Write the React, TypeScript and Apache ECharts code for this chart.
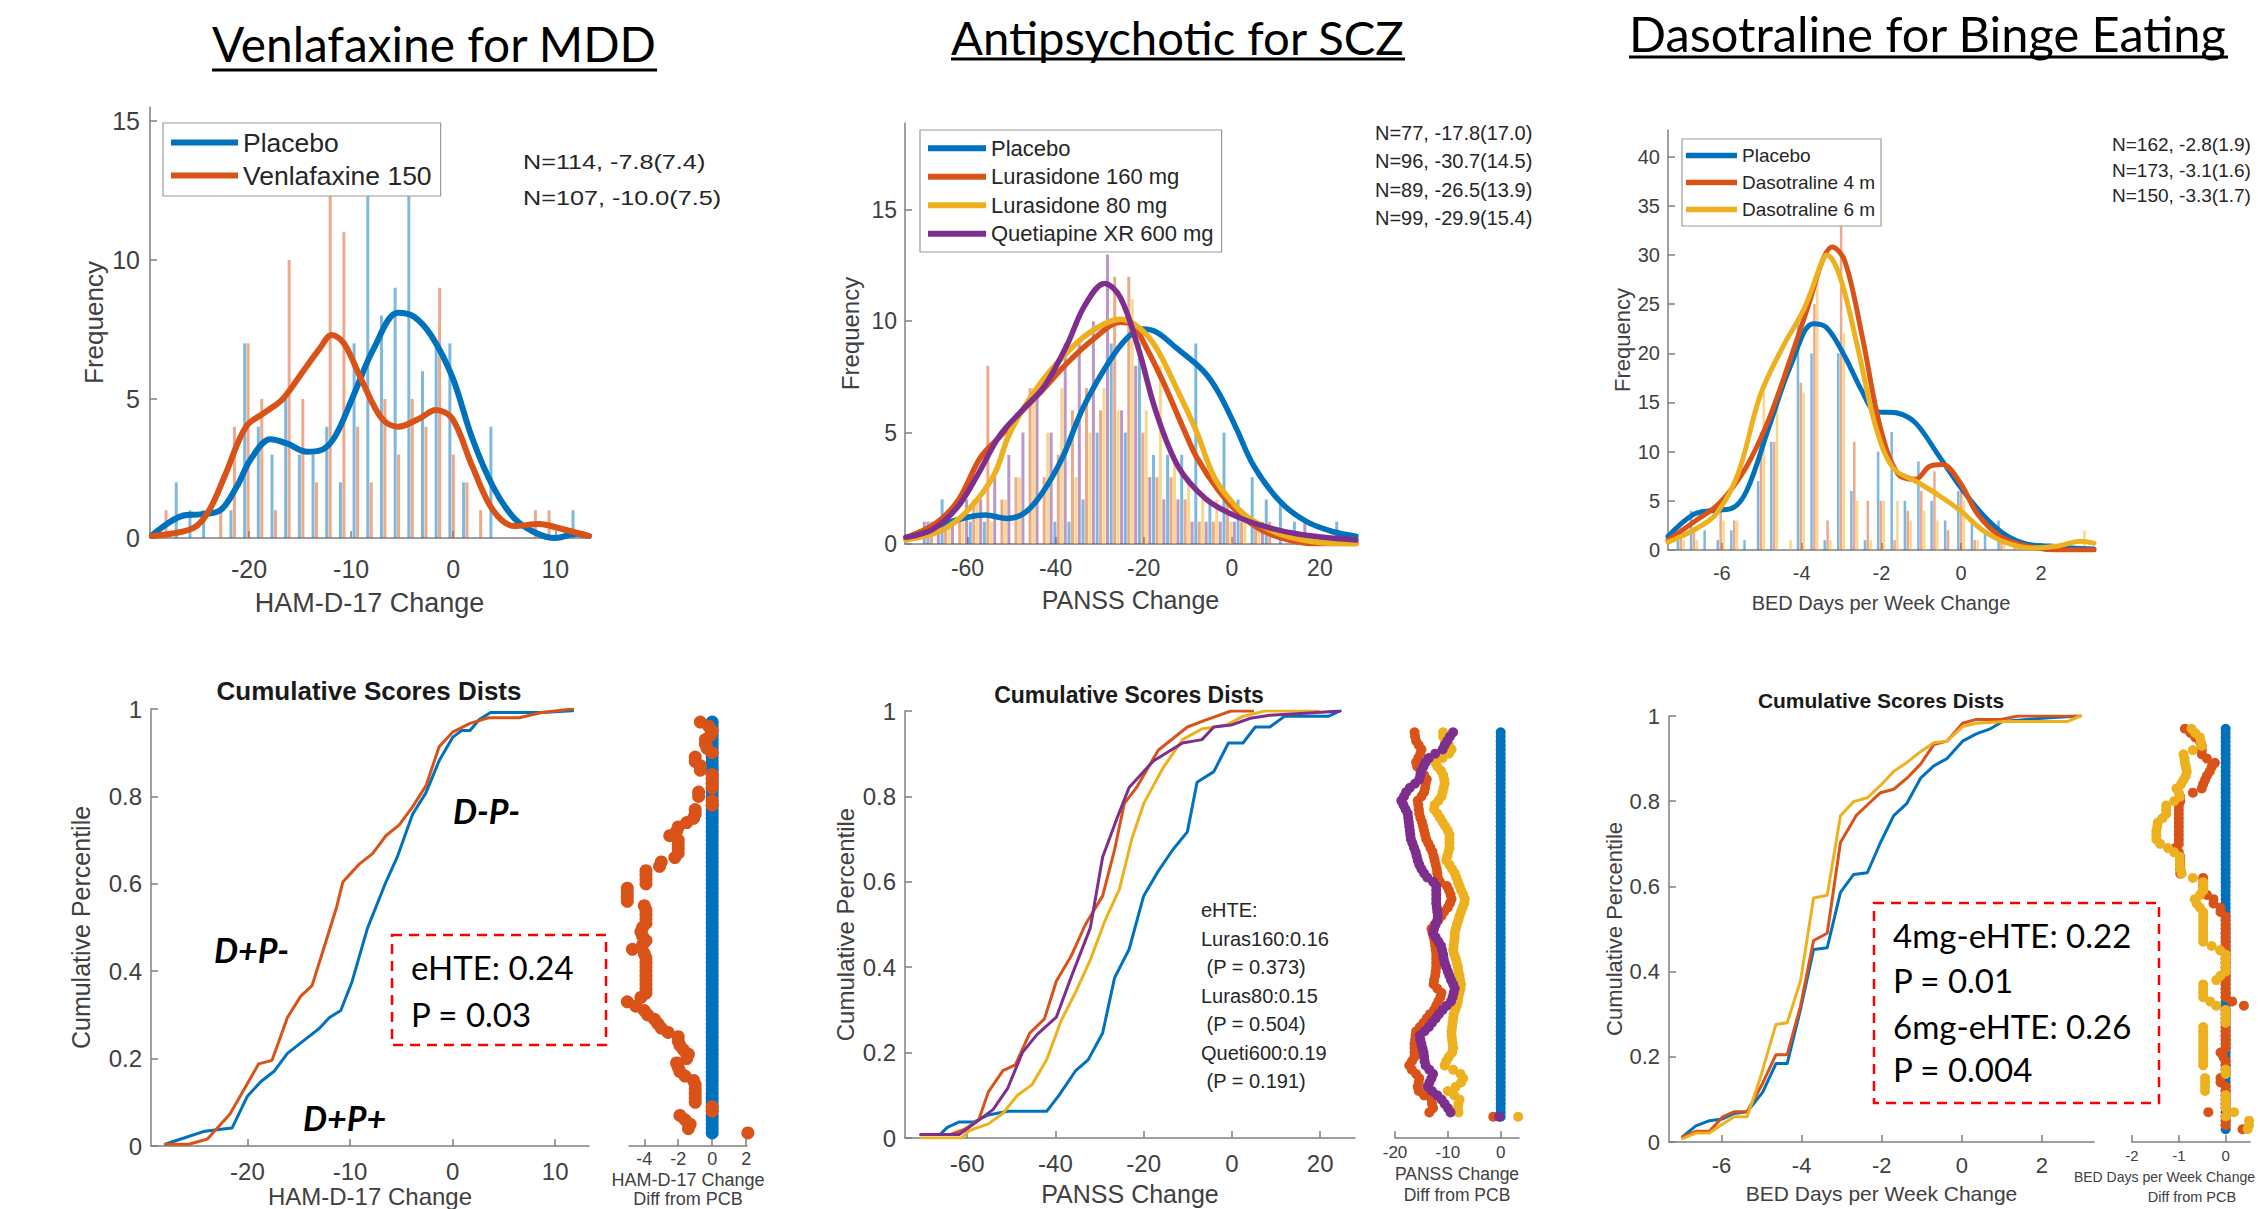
import React, { useEffect, useRef } from "react";
import * as echarts from "echarts";

const BLUE = "#0072BD";
const ORANGE = "#D95319";
const YELLOW = "#EDB120";
const PURPLE = "#7E2F8E";
const AXC = "#7f7f7f";
const LBL = "#404040";
const SANS = "Liberation Sans, Arial, Helvetica, sans-serif";
const CAL = "Lato";

// ---------------- Column 1 : Venlafaxine for MDD ----------------
const mddBins = [-28.3, -26.96, -25.62, -24.28, -22.94, -21.6, -20.26, -18.92, -17.58, -16.24, -14.9, -13.56, -12.22, -10.88, -9.54, -8.2, -6.86, -5.52, -4.18, -2.84, -1.5, -0.16, 1.18, 2.52, 3.86, 5.2, 6.54, 7.88, 9.22, 10.56, 11.9];
const mddPlaceboHist = [0, 2, 1, 1, 0, 1, 7, 4, 3, 5, 3, 3, 4, 2, 7, 13, 8, 9, 13, 6, 7, 7, 2, 0, 4, 0, 0, 0, 0, 0, 1];
const mddVenlaHist = [1, 0, 0, 0, 1, 4, 7, 5, 1, 10, 5, 2, 13, 11, 4, 2, 5, 3, 5, 4, 9, 3, 2, 1, 0, 0, 0, 1, 1, 0, 0];
const mddPlaceboDensity = [[-29.5, 0.1], [-26.5, 0.8], [-24.8, 0.85], [-22.8, 1.0], [-21.2, 1.85], [-19.8, 2.85], [-17.9, 3.55], [-16.3, 3.4], [-14.3, 3.1], [-12.7, 3.2], [-11.5, 3.7], [-9.8, 5.1], [-7.8, 6.8], [-5.4, 8.1], [-3.8, 7.95], [-2.1, 7.25], [-0.1, 5.8], [1.9, 3.55], [3.9, 1.85], [6.0, 0.7], [8.0, 0.2], [10.0, 0.0], [12.1, 0.15], [13.3, 0.07]];
const mddVenlaDensity = [[-29.5, 0.07], [-25.5, 0.35], [-23.9, 1.0], [-22.3, 2.3], [-20.3, 4.0], [-18.3, 4.55], [-16.7, 5.0], [-14.7, 6.0], [-13.1, 6.8], [-11.9, 7.3], [-10.7, 7.0], [-9.0, 5.7], [-7.0, 4.3], [-5.4, 4.0], [-3.3, 4.3], [-1.7, 4.6], [-0.1, 4.3], [1.9, 2.55], [3.9, 1.0], [6.0, 0.43], [8.4, 0.5], [10.4, 0.35], [13.3, 0.07]];
const mddPlaceboCdf = [[-28.0, 0.004], [-27.0, 0.012], [-24.3, 0.033], [-23.0, 0.037], [-21.5, 0.041], [-20.0, 0.114], [-18.7, 0.147], [-17.4, 0.171], [-16.1, 0.212], [-14.3, 0.245], [-13.0, 0.269], [-12.0, 0.294], [-10.9, 0.31], [-9.8, 0.376], [-8.3, 0.498], [-6.5, 0.604], [-5.4, 0.661], [-3.9, 0.759], [-2.6, 0.808], [-1.3, 0.882], [0.0, 0.935], [0.9, 0.951], [1.7, 0.951], [2.6, 0.976], [3.7, 0.992], [6.1, 0.992], [8.7, 0.992], [11.7, 0.996]];
const mddVenlaCdf = [[-28.0, 0.004], [-25.7, 0.004], [-23.9, 0.016], [-21.7, 0.073], [-20.0, 0.143], [-18.9, 0.188], [-17.6, 0.196], [-16.1, 0.294], [-14.8, 0.343], [-13.7, 0.367], [-12.6, 0.449], [-11.3, 0.547], [-10.7, 0.604], [-9.1, 0.645], [-7.8, 0.669], [-6.5, 0.71], [-5.2, 0.735], [-3.9, 0.776], [-2.6, 0.824], [-1.3, 0.914], [0.0, 0.947], [1.7, 0.967], [3.5, 0.98], [6.5, 0.98], [8.7, 0.992], [11.7, 1.0]];
const mddStats = ["N=114, -7.8(7.4)", "N=107, -10.0(7.5)"];
const pctLevels = [0.03, 0.04, 0.05, 0.06, 0.07, 0.08, 0.09, 0.10, 0.11, 0.12, 0.13, 0.14, 0.15, 0.16, 0.17, 0.18, 0.19, 0.20, 0.21, 0.22, 0.23, 0.24, 0.25, 0.26, 0.27, 0.28, 0.29, 0.30, 0.31, 0.32, 0.33, 0.34, 0.35, 0.36, 0.37, 0.38, 0.39, 0.40, 0.41, 0.42, 0.43, 0.44, 0.45, 0.46, 0.47, 0.48, 0.49, 0.50, 0.51, 0.52, 0.53, 0.54, 0.55, 0.56, 0.57, 0.58, 0.59, 0.60, 0.61, 0.62, 0.63, 0.64, 0.65, 0.66, 0.67, 0.68, 0.69, 0.70, 0.71, 0.72, 0.73, 0.74, 0.75, 0.76, 0.77, 0.78, 0.79, 0.80, 0.81, 0.82, 0.83, 0.84, 0.85, 0.86, 0.87, 0.88, 0.89, 0.90, 0.91, 0.92, 0.93, 0.94, 0.95, 0.96, 0.97];
const mddVenlaDiff = [2.1, -1.4, -1.3, -1.6, -1.9, 0, 0, -1, -1, -1, -1, -1, -1.1, -1.6, -1.9, -2, -2.1, -1.5, -1.4, -1.7, -1.9, -2, -2, -2.6, -3, -3.2, -3.4, -3.8, -4, -4.5, -5, -4.2, -3.9, -3.9, -3.9, -3.9, -3.9, -3.9, -3.9, -3.9, -3.9, -4, -4.7, -4.1, -3.9, -4.1, -4.2, -4.1, -3.9, -3.9, -3.9, -3.9, -4, -5, -5, -5, -5, -3.9, -3.9, -3.9, -3.9, -3.1, -3, -2.2, -2, -2, -2, -2, -2.5, -2.1, -2, -1.5, -1.1, -1, -1, 0, 0, -0.8, -0.8, 0, 0, 0, 0, -0.7, -0.7, -1, -1, 0, -0.3, -0.4, -0.4, -0.1, 0, -0.2, -0.7];

// ---------------- Column 2 : Antipsychotic for SCZ ----------------
const sczBins = [-71, -67.8, -64.6, -61.4, -58.2, -55, -51.8, -48.6, -45.4, -42.2, -39, -35.8, -32.6, -29.4, -26.2, -23, -19.8, -16.6, -13.4, -10.2, -7, -3.8, -0.6, 2.6, 5.8, 9, 12.2, 15.4, 18.6, 21.8, 25];
const sczPlaceboHist = [0, 1, 2, 0, 1, 1, 0, 0, 0, 0, 1, 1, 2, 5, 9, 5, 9, 4, 4, 4, 9, 2, 5, 2, 3, 2, 2, 1, 0, 0, 1];
const sczL160Hist = [0, 1, 1, 1, 2, 8, 2, 3, 7, 3, 4, 6, 7, 6, 12, 12, 5, 3, 3, 2, 1, 1, 2, 1, 1, 1, 0, 0, 0, 0, 0];
const sczL80Hist = [0, 0, 1, 1, 2, 1, 2, 3, 7, 5, 7, 3, 5, 7, 6, 11, 6, 8, 4, 3, 2, 2, 1, 1, 1, 0, 0, 0, 0, 0, 0];
const sczQuetiHist = [1, 1, 1, 2, 2, 3, 4, 5, 7, 5, 9, 9, 10, 13, 6, 8, 3, 2, 2, 1, 1, 1, 1, 0, 1, 0, 0, 1, 0, 0, 0];
const sczPlaceboDensity = [[-74, 0.27], [-67, 0.8], [-60, 1.2], [-56, 1.3], [-51, 1.15], [-47, 1.4], [-43, 2.3], [-38.4, 3.9], [-33.8, 6.1], [-27.8, 8.2], [-23.5, 9.3], [-20.2, 9.65], [-17, 9.5], [-12.6, 8.8], [-6.6, 7.8], [-3, 6.8], [1, 5.2], [5, 3.5], [11, 1.9], [17, 1.0], [23, 0.55], [28.2, 0.35]];
const sczL160Density = [[-74, 0.27], [-67, 0.95], [-62, 2.0], [-57, 3.9], [-52, 4.95], [-48.2, 5.84], [-43, 6.9], [-37.5, 8.1], [-31.4, 9.2], [-25.3, 9.95], [-22.5, 9.85], [-20.2, 9.12], [-15.7, 7.33], [-11.1, 5.24], [-8, 3.9], [-3, 2.4], [2, 1.3], [7, 0.6], [13, 0.18], [19, 0.02], [28.2, 0.05]];
const sczL80Density = [[-74, 0.18], [-66, 0.6], [-60, 1.5], [-54, 3.1], [-50.5, 4.94], [-45.2, 6.73], [-39.2, 8.23], [-32.3, 9.49], [-25.1, 10.09], [-21, 9.7], [-17.2, 8.82], [-12.65, 7.03], [-8.1, 5.09], [-4, 3.0], [0, 1.9], [4, 1.15], [11, 0.44], [19, 0.09], [28.2, 0.0]];
const sczQuetiDensity = [[-74, 0.3], [-68, 0.65], [-62.5, 1.6], [-57.7, 3.1], [-52.7, 4.87], [-47.6, 6.0], [-42.5, 7.1], [-37.5, 8.9], [-33.4, 10.7], [-28.9, 11.7], [-25.3, 11.07], [-21.2, 8.77], [-17.2, 5.93], [-12.1, 3.45], [-6, 2.04], [0, 1.33], [7.2, 0.8], [15.3, 0.44], [28.2, 0.18]];
const sczPlaceboCdf = [[-70.5, 0.008], [-66.2, 0.008], [-64.5, 0.025], [-61.8, 0.0375], [-58.5, 0.0375], [-55.2, 0.054], [-50.8, 0.0625], [-42.0, 0.0625], [-39.2, 0.1], [-35.4, 0.158], [-32.6, 0.183], [-29.3, 0.246], [-26.6, 0.375], [-23.3, 0.442], [-20.0, 0.567], [-16.7, 0.625], [-13.4, 0.675], [-10.1, 0.717], [-7.9, 0.833], [-4.1, 0.858], [-0.8, 0.925], [2.5, 0.925], [5.3, 0.9625], [8.6, 0.9625], [11.9, 0.9875], [21.8, 0.9875], [24.5, 1.0]];
const sczL160Cdf = [[-70.5, 0.008], [-63.9, 0.008], [-60.7, 0.02], [-57.4, 0.042], [-55.2, 0.108], [-51.9, 0.158], [-49.1, 0.171], [-45.8, 0.246], [-42.5, 0.279], [-39.8, 0.367], [-36.5, 0.425], [-33.2, 0.5], [-29.3, 0.567], [-26.6, 0.675], [-24.4, 0.783], [-21.6, 0.821], [-16.7, 0.908], [-10.1, 0.9625], [-5.7, 0.98], [-0.2, 1.0], [4.7, 1.0]];
const sczL80Cdf = [[-70.5, 0], [-61.2, 0], [-59.6, 0.017], [-55.2, 0.033], [-51.9, 0.058], [-48.6, 0.1], [-45.3, 0.125], [-42.0, 0.183], [-38.7, 0.275], [-35.4, 0.342], [-32.1, 0.417], [-28.8, 0.508], [-25.5, 0.583], [-22.7, 0.7], [-20.0, 0.783], [-15.6, 0.867], [-11.2, 0.933], [-6.8, 0.958], [-1.3, 0.967], [2.5, 0.9875], [7.5, 1.0], [19.6, 1.0]];
const sczQuetiCdf = [[-70.5, 0.008], [-61.8, 0.008], [-58.5, 0.033], [-54.1, 0.067], [-50.8, 0.117], [-47.5, 0.2], [-44.2, 0.242], [-39.8, 0.283], [-36.5, 0.375], [-32.1, 0.492], [-29.3, 0.658], [-26.0, 0.75], [-23.3, 0.821], [-17.8, 0.883], [-11.2, 0.925], [-6.8, 0.933], [-4.1, 0.9625], [-0.2, 0.967], [4.2, 0.983], [8.6, 0.99], [18.5, 0.996], [24.5, 1.0]];
const sczStats = ["N=77, -17.8(17.0)", "N=96, -30.7(14.5)", "N=89, -26.5(13.9)", "N=99, -29.9(15.4)"];
const sczLevels = pctLevels.slice(2, 93);
const sczL160Diff = [-1.4, -13.5, -12.8, -13, -13.1, -14.5, -15.5, -15.7, -15.5, -15.4, -16, -16.8, -17.3, -16.8, -16.3, -16.3, -16.3, -16.3, -16.2, -16.1, -16, -15.3, -14.6, -14, -13.4, -12.6, -12.2, -11.8, -11.4, -11.2, -12, -12.7, -12.6, -12.4, -12.3, -12.2, -12.2, -12.2, -12.2, -12.3, -12.4, -12.5, -12.7, -12.9, -13.1, -12.5, -11.8, -11.2, -10.7, -10, -9.6, -9.3, -9.5, -9.8, -10.2, -11.5, -11.9, -12, -12.1, -12.3, -12.5, -12.7, -12.9, -13.3, -13.7, -14.1, -14.3, -14.5, -14.7, -14.9, -15.2, -15.4, -15.5, -15.6, -15.7, -15, -14.5, -14.3, -14.2, -14, -14.5, -15.2, -15.8, -16, -15.6, -15.2, -15, -15.5, -16, -16.2, -16.3];
const sczL80Diff = [3.3, -8, -8.1, -8, -7.8, -8.8, -10, -8.5, -7.5, -7.1, -7.6, -9, -10.6, -10.3, -9.8, -9.2, -9, -9.1, -9.2, -9.3, -9.3, -9.2, -9.1, -9, -8.9, -8.6, -8.3, -8.1, -8, -7.8, -7.6, -7.5, -7.7, -7.8, -8, -8.1, -8.3, -8.5, -8.8, -9, -8.9, -8.8, -8.7, -8.7, -8.5, -8.3, -8, -7.8, -7.5, -7.2, -6.9, -6.8, -7.1, -7.5, -7.8, -8.1, -8.4, -8.7, -9.2, -9.7, -10.3, -10.1, -9.9, -9.7, -9.7, -9.7, -9.7, -10, -10.5, -11, -11.5, -12, -12.6, -12.5, -11.8, -11.2, -11, -10.8, -10.6, -10.7, -10.9, -11.3, -12, -12.4, -11, -9.8, -9.3, -9.8, -10.5, -10.9, -10.9];
const sczQuetiDiff = [-0.3, -9.5, -10, -10.6, -11.2, -12, -13, -13.8, -13.5, -13.1, -12.8, -13.5, -14.2, -14.4, -14.5, -14.6, -14.8, -15, -15.2, -15.3, -14.4, -13.6, -13, -12.3, -11.7, -11, -10.2, -9.4, -9.1, -8.9, -8.7, -9, -9.4, -9.7, -10, -10.3, -10.6, -10.8, -10.9, -11.1, -11.3, -11.8, -12.3, -12.8, -12.6, -12.3, -12, -11.9, -12, -12.1, -12.2, -12.2, -12.2, -12.2, -12.2, -12.8, -13.9, -14.5, -15, -15.4, -15.7, -15.9, -16.1, -16.4, -16.7, -17, -17.1, -17.2, -17.3, -17.4, -17.5, -17.6, -18, -18.4, -18.8, -18.3, -17.9, -17.2, -16.2, -15.4, -15.2, -15, -14.6, -14.2, -13.6, -12.4, -11, -10.6, -10.1, -9.6, -9];
const sczEhte = ["eHTE:", "Luras160:0.16", " (P = 0.373)", "Luras80:0.15", " (P = 0.504)", "Queti600:0.19", " (P = 0.191)"];

// ---------------- Column 3 : Dasotraline for Binge Eating ----------------
const bedBins = [-7.03, -6.70, -6.36, -6.03, -5.69, -5.36, -5.02, -4.69, -4.35, -4.02, -3.68, -3.35, -3.01, -2.68, -2.34, -2.01, -1.67, -1.34, -1.0, -0.67, -0.33, 0.0, 0.34, 0.67, 1.01, 1.34, 1.68, 2.01, 2.35, 2.68, 3.02];
const bedPlaceboHist = [1, 4, 2, 1, 2, 1, 7, 11, 0, 23, 20, 1, 20, 6, 1, 10, 12, 5, 9, 5, 3, 6, 3, 2, 3, 0, 0, 0, 0, 0, 0];
const bedD4Hist = [2, 2, 0, 4, 3, 0, 12, 11, 0, 17, 25, 3, 33, 11, 5, 5, 1, 4, 6, 8, 2, 7, 1, 0, 1, 1, 0, 0, 0, 0, 0];
const bedD6Hist = [1, 1, 0, 3, 3, 0, 16, 16, 1, 16, 28, 1, 22, 5, 1, 5, 5, 3, 4, 3, 0, 5, 1, 0, 1, 1, 0, 0, 0, 0, 2];
const bedPlaceboDensity = [[-7.35, 1.4], [-6.72, 3.6], [-6.27, 4.0], [-5.77, 4.2], [-5.38, 6.0], [-4.82, 12.5], [-4.26, 18.9], [-3.71, 23.0], [-3.37, 22.6], [-2.92, 19.7], [-2.48, 16.1], [-2.14, 14.1], [-1.58, 13.9], [-1.14, 12.9], [-0.58, 9.7], [-0.02, 6.4], [0.54, 3.6], [1.09, 1.6], [1.65, 0.6], [2.21, 0.4], [2.77, 0.2], [3.33, 0.1]];
const bedD4Density = [[-7.35, 1.0], [-6.72, 2.8], [-6.05, 4.8], [-5.38, 8.5], [-4.82, 13.3], [-4.26, 19.7], [-3.82, 25.0], [-3.48, 29.4], [-3.24, 30.8], [-2.92, 29.4], [-2.48, 21.7], [-2.03, 12.5], [-1.58, 7.7], [-1.14, 7.2], [-0.8, 8.5], [-0.47, 8.7], [-0.02, 6.8], [0.42, 3.6], [0.98, 1.4], [1.65, 0.4], [2.43, 0], [3.33, 0]];
const bedD6Density = [[-7.35, 0.8], [-6.72, 2.0], [-6.16, 3.6], [-5.6, 7.7], [-5.04, 15.7], [-4.49, 20.5], [-3.93, 24.6], [-3.48, 29.4], [-3.37, 30.0], [-3.04, 27.8], [-2.59, 20.5], [-2.14, 12.5], [-1.7, 8.3], [-1.14, 7.0], [-0.58, 5.6], [-0.02, 4.0], [0.54, 2.0], [1.09, 0.8], [1.76, 0.2], [2.43, 0.4], [2.99, 0.9], [3.33, 0.7]];
const bedPlaceboCdf = [[-6.97, 0.0125], [-6.64, 0.038], [-6.3, 0.05], [-5.97, 0.054], [-5.69, 0.067], [-5.36, 0.071], [-4.97, 0.117], [-4.64, 0.184], [-4.36, 0.184], [-4.03, 0.31], [-3.7, 0.452], [-3.36, 0.456], [-3.03, 0.586], [-2.7, 0.628], [-2.36, 0.632], [-2.03, 0.703], [-1.7, 0.766], [-1.37, 0.795], [-1.03, 0.854], [-0.7, 0.883], [-0.37, 0.9], [0.02, 0.941], [0.36, 0.958], [0.69, 0.969], [1.02, 0.987], [1.63, 0.992], [2.19, 0.996], [2.96, 1.0]];
const bedD4Cdf = [[-6.97, 0.0125], [-6.64, 0.025], [-6.3, 0.025], [-5.97, 0.059], [-5.69, 0.071], [-5.36, 0.071], [-4.97, 0.138], [-4.64, 0.205], [-4.36, 0.205], [-4.03, 0.318], [-3.7, 0.473], [-3.36, 0.49], [-3.03, 0.703], [-2.64, 0.766], [-2.36, 0.791], [-2.03, 0.82], [-1.7, 0.828], [-1.37, 0.854], [-1.03, 0.887], [-0.7, 0.933], [-0.37, 0.941], [0.02, 0.983], [0.36, 0.992], [0.97, 0.992], [1.41, 1.0], [2.96, 1.0]];
const bedD6Cdf = [[-6.97, 0.008], [-6.64, 0.021], [-6.3, 0.021], [-5.97, 0.042], [-5.69, 0.059], [-5.36, 0.059], [-5.03, 0.151], [-4.64, 0.276], [-4.36, 0.28], [-4.03, 0.377], [-3.7, 0.573], [-3.36, 0.579], [-3.03, 0.766], [-2.7, 0.799], [-2.36, 0.808], [-2.03, 0.837], [-1.7, 0.87], [-1.37, 0.891], [-1.03, 0.916], [-0.7, 0.937], [-0.37, 0.941], [0.02, 0.975], [0.36, 0.983], [1.08, 0.987], [2.63, 0.987], [2.96, 1.0]];
const bedStats = ["N=162, -2.8(1.9)", "N=173, -3.1(1.6)", "N=150, -3.3(1.7)"];
const bedD4Diff = [0.36, 0, 0, 0, -0.37, 0, 0, 0, 0, 0, 0, -0.11, -0.11, 0, 0, 0, 0, -0.05, -0.11, 0, 0, 0, 0, 0, 0, 0, 0, 0, 0, 0.39, 0.14, 0, 0, 0, 0, 0, 0, 0, 0, 0, 0, 0, 0, 0, 0, 0, 0, 0, 0, 0, 0, -0.11, -0.11, -0.26, -0.26, -0.4, -0.48, -0.48, -0.48, -0.48, -0.97, -0.97, -0.97, -0.97, -0.97, -1.0, -1.08, -1.0, -1.0, -1.0, -1.0, -1.0, -1.0, -1.0, -1.0, -1.0, -1.0, -0.97, -0.97, -0.7, -0.51, -0.48, -0.44, -0.4, -0.34, -0.3, -0.23, -0.4, -0.51, -0.51, -0.51, -0.55, -0.65, -0.75, -0.87];
const bedD6Diff = [0.47, 0.5, 0.5, 0, 0.18, 0, 0, 0, 0, -0.44, -0.44, -0.44, -0.44, 0, 0, -0.48, -0.48, -0.48, -0.48, -0.48, -0.48, -0.48, -0.48, -0.48, -0.48, 0, 0, 0, 0, -0.2, -0.33, -0.48, -0.48, -0.48, -0.48, -0.2, -0.11, 0, 0, 0, 0, 0, -0.12, -0.3, -0.48, -0.48, -0.48, -0.48, -0.48, -0.48, -0.48, -0.48, -0.55, -0.62, -0.66, -0.55, -0.48, -0.48, -0.48, -0.7, -0.94, -0.96, -0.98, -0.98, -0.98, -1.1, -1.23, -1.4, -1.48, -1.48, -1.48, -1.46, -1.45, -1.35, -1.27, -1.27, -1.27, -1.1, -0.98, -1.0, -1.05, -0.95, -0.9, -0.85, -0.83, -0.85, -0.87, -0.88, -0.9, -0.7, -0.51, -0.53, -0.55, -0.65, -0.73];
const bedEhte = ["4mg-eHTE: 0.22", "P = 0.01", "6mg-eHTE: 0.26", "P = 0.004"];

// ---------------- helpers ----------------
const zip = (xs: number[], ys: number[]) => xs.map((x, i) => [x, ys[i]]);
const dots = (diffs: number[], levels: number[]) => levels.map((l, i) => [diffs[i] ?? 0, l]);
const zeroDots = (levels: number[]) => levels.map((l) => [0, l]);
const fmt = (v: number) => String(Math.round(v * 100) / 100);

function fitSize(text: string, family: string, weight: string, base: number, target: number) {
  try {
    const ctx = document.createElement("canvas").getContext("2d");
    if (!ctx) return base;
    ctx.font = `${weight} ${base}px ${family}`;
    const w = ctx.measureText(text).width;
    return w > 0 ? (base * target) / w : base;
  } catch (e) {
    return base;
  }
}

function xAx(gi: number, min: number, max: number, ticks: number[], o: any) {
  return {
    type: "value", gridIndex: gi, min, max,
    axisLine: { show: true, onZero: false, lineStyle: { color: AXC, width: 1.5 } },
    axisTick: { show: true, inside: true, length: 7, customValues: ticks, lineStyle: { color: AXC, width: 1.5 } },
    axisLabel: { customValues: ticks, color: LBL, fontSize: o.fs, margin: o.margin, formatter: fmt, fontFamily: SANS },
    splitLine: { show: false },
    name: o.name, nameLocation: "middle", nameGap: o.nameGap,
    nameTextStyle: { color: LBL, fontSize: o.nameFs, lineHeight: o.nameLh, fontFamily: SANS },
  };
}
function yAx(gi: number, min: number, max: number, ticks: number[], o: any) {
  return {
    type: "value", gridIndex: gi, min, max, show: o.show !== false,
    axisLine: { show: true, onZero: false, lineStyle: { color: AXC, width: 1.5 } },
    axisTick: { show: true, inside: true, length: 7, customValues: ticks, lineStyle: { color: AXC, width: 1.5 } },
    axisLabel: { customValues: ticks, color: LBL, fontSize: o.fs, margin: o.margin, formatter: fmt, fontFamily: SANS },
    splitLine: { show: false },
    name: o.name, nameLocation: "middle", nameGap: o.nameGap,
    nameTextStyle: { color: LBL, fontSize: o.nameFs, fontFamily: SANS },
  };
}
const bar = (name: string, gi: number, bins: number[], vals: number[], color: string, w: number) => ({
  type: "bar", name, xAxisIndex: gi, yAxisIndex: gi, data: zip(bins, vals),
  barWidth: w, barGap: "15%", itemStyle: { color, opacity: 0.5 }, silent: true,
});
const curve = (name: string, gi: number, data: number[][], color: string, width: number, smooth: any) => ({
  type: "line", name, xAxisIndex: gi, yAxisIndex: gi, data, color, smooth,
  symbol: "none", showSymbol: false, lineStyle: { color, width, cap: "round", join: "round" }, silent: true,
});
const strip = (name: string, gi: number, data: number[][], color: string, size: number) => ({
  type: "scatter", name, xAxisIndex: gi, yAxisIndex: gi, data, symbolSize: size, clip: false,
  itemStyle: { color, opacity: 1 }, silent: true,
});
const txt = (text: string, x: number, y: number, size: number, o: any = {}) => ({
  type: "text", x, y, scaleX: o.scaleX ?? 1, silent: true, z: 100,
  style: {
    text, fill: o.color ?? "#000", fontSize: size, fontFamily: o.family ?? SANS,
    fontWeight: o.weight ?? "normal", fontStyle: o.style ?? "normal",
    textAlign: o.align ?? "left", align: o.align ?? "left",
    textVerticalAlign: "middle", verticalAlign: "middle",
  },
});
const uline = (x1: number, x2: number, y: number) => ({
  type: "line", silent: true, z: 100, shape: { x1, y1: y, x2, y2: y }, style: { stroke: "#000", lineWidth: 3 },
});
const dashBox = (x: number, y: number, w: number, h: number) => ({
  type: "rect", silent: true, z: 100, shape: { x, y, width: w, height: h },
  style: { fill: "none", stroke: "#ff0000", lineWidth: 2.5, lineDash: [10, 7] },
});
const legend = (names: string[], left: number, top: number, fs: number, lh: number, iw: number, ih: number, pad: number[]) => ({
  show: true, orient: "vertical", left, top, data: names, icon: "rect", itemWidth: iw, itemHeight: ih, itemGap: 0,
  selectedMode: false, padding: pad, backgroundColor: "#fff", borderColor: "#9a9a9a", borderWidth: 1.2,
  textStyle: { fontSize: fs, lineHeight: lh, color: "#262626", fontFamily: SANS },
});

function buildOption() {
  const t1 = "Venlafaxine for MDD";
  const t2 = "Antipsychotic for SCZ";
  const t3 = "Dasotraline for Binge Eating";
  const f1 = fitSize(t1, CAL, "normal", 48, 445);
  const f2 = fitSize(t2, CAL, "normal", 48, 454);
  const f3 = fitSize(t3, CAL, "normal", 48, 598);

  const grid = [
    { left: 150, top: 107, width: 439, height: 431 },
    { left: 151, top: 709, width: 438, height: 437 },
    { left: 629, top: 709, width: 118, height: 437 },
    { left: 905, top: 123, width: 451, height: 421 },
    { left: 905, top: 711, width: 450, height: 427 },
    { left: 1395, top: 711, width: 124, height: 427 },
    { left: 1668, top: 130, width: 426, height: 420 },
    { left: 1669, top: 716, width: 425, height: 426 },
    { left: 2132, top: 716, width: 118, height: 426 },
  ].map((g) => ({ ...g, containLabel: false, outerBoundsMode: "none" }));

  const pctTicks = [0, 0.2, 0.4, 0.6, 0.8, 1];
  const xAxis = [
    xAx(0, -29.7, 13.3, [-20, -10, 0, 10], { fs: 25, margin: 18, name: "HAM-D-17 Change", nameFs: 27, nameGap: 51 }),
    xAx(1, -29.4, 13.3, [-20, -10, 0, 10], { fs: 24, margin: 13, name: "HAM-D-17 Change", nameFs: 24, nameGap: 38 }),
    xAx(2, -4.9, 2.05, [-4, -2, 0, 2], { fs: 18, margin: 4, name: "HAM-D-17 Change\nDiff from PCB", nameFs: 18, nameLh: 19, nameGap: 24 }),
    xAx(3, -74.2, 28.2, [-60, -40, -20, 0, 20], { fs: 23, margin: 12, name: "PANSS Change", nameFs: 25, nameGap: 43 }),
    xAx(4, -74.1, 27.9, [-60, -40, -20, 0, 20], { fs: 24, margin: 13, name: "PANSS Change", nameFs: 25, nameGap: 43 }),
    xAx(5, -20, 3.46, [-20, -10, 0], { fs: 17, margin: 6, name: "PANSS Change\nDiff from PCB", nameFs: 17.5, nameLh: 21.5, nameGap: 25 }),
    xAx(6, -7.35, 3.33, [-6, -4, -2, 0, 2], { fs: 20, margin: 13, name: "BED Days per Week Change", nameFs: 20, nameGap: 43 }),
    xAx(7, -7.31, 3.3, [-6, -4, -2, 0, 2], { fs: 22, margin: 12, name: "BED Days per Week Change", nameFs: 21, nameGap: 41 }),
    xAx(8, -2.0, 0.52, [-2, -1, 0], { fs: 15, margin: 6 }),
  ];
  const yAxis = [
    yAx(0, 0, 15.5, [0, 5, 10, 15], { fs: 25, margin: 10, name: "Frequency", nameFs: 26, nameGap: 43 }),
    yAx(1, 0, 1, pctTicks, { fs: 24, margin: 9, name: "Cumulative Percentile", nameFs: 25, nameGap: 58 }),
    yAx(2, 0, 1, [], { show: false }),
    yAx(3, 0, 18.9, [0, 5, 10, 15], { fs: 23, margin: 8, name: "Frequency", nameFs: 24, nameGap: 43 }),
    yAx(4, 0, 1, pctTicks, { fs: 24, margin: 9, name: "Cumulative Percentile", nameFs: 24, nameGap: 48 }),
    yAx(5, 0, 1, [], { show: false }),
    yAx(6, 0, 42.7, [0, 5, 10, 15, 20, 25, 30, 35, 40], { fs: 20, margin: 8, name: "Frequency", nameFs: 22, nameGap: 35 }),
    yAx(7, 0, 1, pctTicks, { fs: 22, margin: 9, name: "Cumulative Percentile", nameFs: 22, nameGap: 42 }),
    yAx(8, 0, 1, [], { show: false }),
  ];

  const series: any[] = [
    // column 1
    bar("mdd-pcb-hist", 0, mddBins, mddPlaceboHist, BLUE, 3),
    bar("mdd-ven-hist", 0, mddBins, mddVenlaHist, ORANGE, 3),
    curve("Placebo", 0, mddPlaceboDensity, BLUE, 6, 0.35),
    curve("Venlafaxine 150", 0, mddVenlaDensity, ORANGE, 6, 0.35),
    curve("mdd-pcb-cdf", 1, mddPlaceboCdf, BLUE, 3, false),
    curve("mdd-ven-cdf", 1, mddVenlaCdf, ORANGE, 3, false),
    strip("mdd-pcb-dots", 2, zeroDots(pctLevels), BLUE, 13),
    strip("mdd-ven-dots", 2, dots(mddVenlaDiff, pctLevels), ORANGE, 13),
    // column 2
    bar("scz-pcb-hist", 3, sczBins, sczPlaceboHist, BLUE, 3),
    bar("scz-l160-hist", 3, sczBins, sczL160Hist, ORANGE, 3),
    bar("scz-l80-hist", 3, sczBins, sczL80Hist, YELLOW, 3),
    bar("scz-q-hist", 3, sczBins, sczQuetiHist, PURPLE, 3),
    curve("Placebo", 3, sczPlaceboDensity, BLUE, 5.5, 0.35),
    curve("Lurasidone 160 mg", 3, sczL160Density, ORANGE, 5.5, 0.35),
    curve("Lurasidone 80 mg", 3, sczL80Density, YELLOW, 5.5, 0.35),
    curve("Quetiapine XR 600 mg", 3, sczQuetiDensity, PURPLE, 5.5, 0.35),
    curve("scz-pcb-cdf", 4, sczPlaceboCdf, BLUE, 3, false),
    curve("scz-l160-cdf", 4, sczL160Cdf, ORANGE, 3, false),
    curve("scz-l80-cdf", 4, sczL80Cdf, YELLOW, 3, false),
    curve("scz-q-cdf", 4, sczQuetiCdf, PURPLE, 3, false),
    strip("scz-pcb-dots", 5, zeroDots(sczLevels), BLUE, 10),
    strip("scz-l160-dots", 5, dots(sczL160Diff, sczLevels), ORANGE, 10),
    strip("scz-l80-dots", 5, dots(sczL80Diff, sczLevels), YELLOW, 10),
    strip("scz-q-dots", 5, dots(sczQuetiDiff, sczLevels), PURPLE, 10),
    // column 3
    bar("bed-pcb-hist", 6, bedBins, bedPlaceboHist, BLUE, 2.5),
    bar("bed-d4-hist", 6, bedBins, bedD4Hist, ORANGE, 2.5),
    bar("bed-d6-hist", 6, bedBins, bedD6Hist, YELLOW, 2.5),
    curve("Placebo", 6, bedPlaceboDensity, BLUE, 5, 0.35),
    curve("Dasotraline 4 m", 6, bedD4Density, ORANGE, 5, 0.35),
    curve("Dasotraline 6 m", 6, bedD6Density, YELLOW, 5, 0.35),
    curve("bed-pcb-cdf", 7, bedPlaceboCdf, BLUE, 3, false),
    curve("bed-d4-cdf", 7, bedD4Cdf, ORANGE, 3, false),
    curve("bed-d6-cdf", 7, bedD6Cdf, YELLOW, 3, false),
    strip("bed-pcb-dots", 8, zeroDots(pctLevels), BLUE, 10),
    strip("bed-d4-dots", 8, dots(bedD4Diff, pctLevels), ORANGE, 10),
    strip("bed-d6-dots", 8, dots(bedD6Diff, pctLevels), YELLOW, 10),
  ];

  const legendList = [
    legend(["Placebo", "Venlafaxine 150"], 163, 123, 26.5, 33, 67, 6, [3, 9, 4, 8]),
    legend(["Placebo", "Lurasidone 160 mg", "Lurasidone 80 mg", "Quetiapine XR 600 mg"], 920, 130, 22, 28.5, 58, 6, [4, 8, 4, 8]),
    legend(["Placebo", "Dasotraline 4 m", "Dasotraline 6 m"], 1682, 139, 19, 27, 51, 5.5, [3, 6, 3, 4]),
  ];

  const graphic: any[] = [
    txt(t1, 212, 43, f1, { family: CAL }), uline(212, 657, 70),
    txt(t2, 951, 36, f2, { family: CAL }), uline(951, 1405, 59),
    txt(t3, 1629, 33, f3, { family: CAL }), uline(1629, 2228, 57),
    // stats
    ...mddStats.map((s, i) => txt(s, 523, 162 + i * 35.7, 21, { color: "#262626", scaleX: 1.2 })),
    ...sczStats.map((s, i) => txt(s, 1375, 132.5 + i * 28.6, 20, { color: "#262626" })),
    ...bedStats.map((s, i) => txt(s, 2112, 144.3 + i * 25.7, 19, { color: "#262626" })),
    // cumulative titles
    txt("Cumulative Scores Dists", 369, 691, 26, { weight: "bold", align: "center", color: "#1a1a1a" }),
    txt("Cumulative Scores Dists", 1129, 695, 23, { weight: "bold", align: "center", color: "#1a1a1a" }),
    txt("Cumulative Scores Dists", 1881, 700, 21, { weight: "bold", align: "center", color: "#1a1a1a" }),
    // column 1 annotations
    txt("D-P-", 453, 810, 34, { family: CAL, weight: "bold", style: "italic" }),
    txt("D+P-", 214, 949, 34, { family: CAL, weight: "bold", style: "italic" }),
    txt("D+P+", 303, 1117, 34, { family: CAL, weight: "bold", style: "italic" }),
    dashBox(392, 935, 214, 110),
    txt("eHTE: 0.24", 411, 967, 33, { family: CAL }),
    txt("P = 0.03", 411, 1014, 33, { family: CAL }),
    // column 2 annotations
    ...sczEhte.map((s, i) => txt(s, 1201, [910, 939, 967, 996, 1024, 1053, 1081][i], 20, { color: "#262626" })),
    // column 3 annotations
    dashBox(1874, 903, 285, 200),
    ...bedEhte.map((s, i) => txt(s, 1893, [935, 980, 1026, 1069][i], 33, { family: CAL })),
    // column 3 strip axis name (kept inside the page)
    txt("BED Days per Week Change", 2255, 1177, 14, { color: LBL, align: "right" }),
    txt("Diff from PCB", 2192, 1197, 14.5, { color: LBL, align: "center" }),
  ];

  return {
    animation: false,
    backgroundColor: "#ffffff",
    textStyle: { fontFamily: SANS },
    grid, xAxis, yAxis, series, legend: legendList, graphic,
  };
}

export default function App() {
  const ref = useRef<HTMLDivElement>(null);
  useEffect(() => {
    document.body.style.margin = "0";
    document.body.style.overflow = "hidden";
    const chart = echarts.init(ref.current as HTMLDivElement, undefined, { renderer: "svg" });
    chart.setOption(buildOption() as any);
    return () => chart.dispose();
  }, []);
  return <div ref={ref} style={{ width: 2258, height: 1209, background: "#fff" }} />;
}
